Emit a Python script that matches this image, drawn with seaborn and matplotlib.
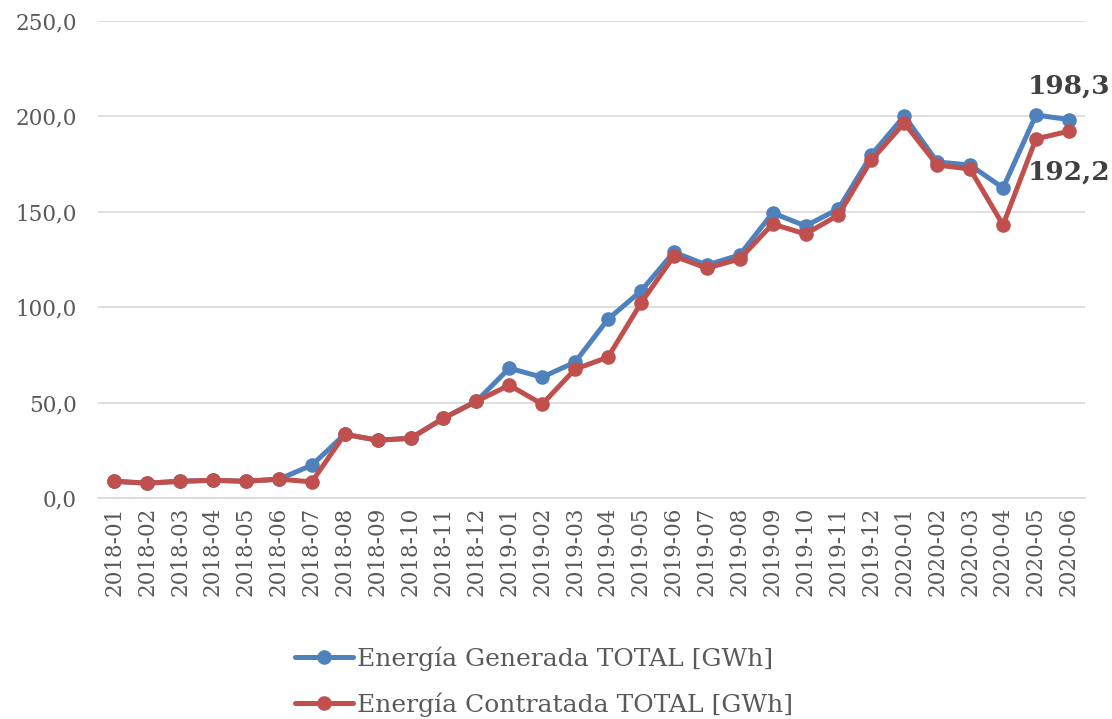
import matplotlib
matplotlib.use("Agg")
import matplotlib.pyplot as plt
import seaborn as sns
import pandas as pd

months = ["2018-01", "2018-02", "2018-03", "2018-04", "2018-05", "2018-06",
          "2018-07", "2018-08", "2018-09", "2018-10", "2018-11", "2018-12",
          "2019-01", "2019-02", "2019-03", "2019-04", "2019-05", "2019-06",
          "2019-07", "2019-08", "2019-09", "2019-10", "2019-11", "2019-12",
          "2020-01", "2020-02", "2020-03", "2020-04", "2020-05", "2020-06"]
generada = [8.9, 7.9, 8.9, 9.4, 8.9, 10.0, 17.3, 33.5, 30.4, 31.4, 41.9, 50.8,
            68.1, 63.4, 71.3, 93.8, 108.5, 128.9, 122.1, 127.4, 149.4, 142.6,
            151.5, 179.8, 200.2, 176.1, 174.5, 162.5, 200.7, 198.3]
contratada = [8.9, 7.9, 8.9, 9.4, 8.9, 10.0, 8.6, 33.5, 30.4, 31.4, 41.9, 50.8,
              59.2, 49.3, 67.6, 73.9, 102.2, 126.8, 120.5, 125.3, 143.6, 138.4,
              148.3, 177.1, 196.5, 174.5, 172.4, 143.1, 188.2, 192.2]
series_names = ["Energía Generada TOTAL [GWh]", "Energía Contratada TOTAL [GWh]"]
colors = ["#4F81BD", "#C0504D"]
yticks = [0, 50, 100, 150, 200, 250]

df = pd.DataFrame({
    "mes": months * 2,
    "valor": generada + contratada,
    "serie": [series_names[0]] * len(months) + [series_names[1]] * len(months),
})

sns.set_theme(style="white")
plt.rcParams["font.family"] = ["DejaVu Serif"]

fig = plt.figure(figsize=(11.12, 7.19), dpi=100)
ax = fig.add_axes([0.088, 0.307, 0.888, 0.664])

sns.lineplot(data=df, x="mes", y="valor", hue="serie", palette=colors,
             marker="o", markersize=10.5, linewidth=3.6, markeredgewidth=0,
             sort=False, ax=ax, legend=True)

ax.set_xlim(-0.5, len(months) - 0.5)
ax.set_ylim(0, 250)
ax.set_yticks(yticks)
ax.set_yticklabels([f"{v:.1f}".replace(".", ",") for v in yticks])
ax.set_xticks(range(len(months)))
ax.set_xticklabels(months, rotation=90)
ax.tick_params(axis="both", colors="#595959", labelsize=15.5, length=0)
ax.tick_params(axis="y", pad=15)
ax.tick_params(axis="x", pad=6)
ax.set_xlabel("")
ax.set_ylabel("")
for s in ["top", "right", "left"]:
    ax.spines[s].set_visible(False)
ax.spines["bottom"].set_color("#D9D9D9")
ax.spines["bottom"].set_linewidth(1.2)
ax.yaxis.grid(True, color="#D9D9D9", linewidth=1.2)
ax.set_axisbelow(True)

ax.text(len(months) - 1, generada[-1] + 11, f"{generada[-1]:.1f}".replace(".", ","),
        ha="center", va="bottom", fontsize=19, fontweight="bold", color="#404040")
ax.text(len(months) - 1, contratada[-1] - 15, f"{contratada[-1]:.1f}".replace(".", ","),
        ha="center", va="top", fontsize=19, fontweight="bold", color="#404040")

leg = ax.legend(loc="upper left", bbox_to_anchor=(0.19, -0.29), frameon=False,
                fontsize=18, labelcolor="#595959", handlelength=2.3,
                handletextpad=0.15, labelspacing=0.85, borderaxespad=0)

fig.savefig("out.png", dpi=100)
